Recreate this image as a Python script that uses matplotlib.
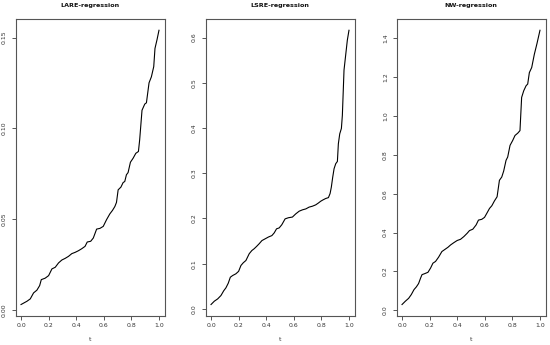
import matplotlib
matplotlib.use("Agg")
import matplotlib.pyplot as plt
import numpy as np

# ---- data ----
lare_t = [0.0, 0.043, 0.067, 0.091, 0.115, 0.135, 0.147, 0.175, 0.2, 0.224, 0.248, 0.272,
          0.296, 0.32, 0.344, 0.368, 0.392, 0.416, 0.44, 0.464, 0.48, 0.505, 0.524, 0.548,
          0.572, 0.596, 0.62, 0.644, 0.663, 0.68, 0.692, 0.704, 0.724, 0.74, 0.752, 0.764,
          0.776, 0.793, 0.8125, 0.832, 0.851, 0.86, 0.877, 0.897, 0.909, 0.928, 0.945,
          0.962, 0.971, 0.986, 1.0]
lare_y = [0.0031, 0.0049, 0.0062, 0.0095, 0.011, 0.0135, 0.0168, 0.0176, 0.019, 0.0227,
          0.0236, 0.026, 0.0276, 0.0285, 0.0296, 0.0311, 0.0318, 0.0327, 0.0338, 0.0351,
          0.0375, 0.0379, 0.0397, 0.0446, 0.045, 0.0461, 0.0498, 0.053, 0.0549, 0.057,
          0.0593, 0.0662, 0.0677, 0.0702, 0.0708, 0.0745, 0.0757, 0.0814, 0.0836, 0.0863,
          0.0873, 0.0937, 0.110, 0.1134, 0.1141, 0.1251, 0.1284, 0.134, 0.144, 0.1489, 0.154]

lsre_t = [0.0, 0.024, 0.048, 0.072, 0.092, 0.108, 0.125, 0.14, 0.157, 0.18, 0.2, 0.217,
          0.234, 0.253, 0.277, 0.296, 0.313, 0.33, 0.349, 0.369, 0.393, 0.417, 0.441, 0.458,
          0.475, 0.494, 0.513, 0.537, 0.561, 0.59, 0.614, 0.639, 0.663, 0.687, 0.711, 0.735,
          0.759, 0.778, 0.795, 0.812, 0.831, 0.851, 0.863, 0.872, 0.882, 0.892, 0.904, 0.916,
          0.923, 0.933, 0.945, 0.952, 0.964, 0.976, 0.988, 1.0]
lsre_y = [0.0096, 0.017, 0.022, 0.0295, 0.04, 0.0465, 0.0568, 0.07, 0.0738, 0.0775, 0.083,
          0.096, 0.102, 0.107, 0.122, 0.129, 0.133, 0.138, 0.144, 0.151, 0.155, 0.159, 0.162,
          0.168, 0.177, 0.179, 0.186, 0.199, 0.2015, 0.203, 0.210, 0.216, 0.219, 0.221, 0.225,
          0.227, 0.230, 0.234, 0.238, 0.241, 0.244, 0.246, 0.255, 0.269, 0.291, 0.310, 0.321,
          0.326, 0.365, 0.387, 0.399, 0.428, 0.528, 0.561, 0.594, 0.616]

nw_t = [0.0, 0.024, 0.048, 0.067, 0.087, 0.104, 0.12, 0.135, 0.145, 0.164, 0.188, 0.207,
        0.224, 0.243, 0.265, 0.289, 0.313, 0.333, 0.352, 0.376, 0.4, 0.424, 0.448, 0.472,
        0.489, 0.513, 0.537, 0.554, 0.578, 0.598, 0.617, 0.634, 0.651, 0.67, 0.689, 0.706,
        0.723, 0.737, 0.754, 0.766, 0.783, 0.802, 0.819, 0.839, 0.855, 0.867, 0.882, 0.899,
        0.911, 0.923, 0.94, 0.959, 0.978, 1.0]
nw_y = [0.029, 0.046, 0.061, 0.080, 0.106, 0.120, 0.137, 0.166, 0.183, 0.188, 0.195, 0.217,
        0.242, 0.251, 0.273, 0.302, 0.314, 0.324, 0.336, 0.348, 0.359, 0.365, 0.379, 0.396,
        0.41, 0.417, 0.439, 0.464, 0.468, 0.478, 0.502, 0.524, 0.538, 0.563, 0.584, 0.669,
        0.686, 0.717, 0.772, 0.789, 0.849, 0.874, 0.900, 0.912, 0.925, 1.096, 1.130, 1.156,
        1.165, 1.224, 1.250, 1.318, 1.373, 1.442]

titles = ["LARE-regression", "LSRE-regression", "NW-regression"]
x_ticks = [0.0, 0.2, 0.4, 0.6, 0.8, 1.0]
y_ticks_list = [[0.00, 0.05, 0.10, 0.15],
                [0.0, 0.1, 0.2, 0.3, 0.4, 0.5, 0.6],
                [0.0, 0.2, 0.4, 0.6, 0.8, 1.0, 1.2, 1.4]]
y_fmt = ["%.2f", "%.1f", "%.1f"]

series = [(lare_t, lare_y), (lsre_t, lsre_y), (nw_t, nw_y)]

W, H = 550, 345
fig = plt.figure(figsize=(W / 100, H / 100), dpi=100)

lefts = [15.5, 205.5, 396.5]
box_w = 149.0
top, bottom = 19.3, 315.5

for i in range(3):
    l = lefts[i]
    ax = fig.add_axes([l / W, 1 - bottom / H, box_w / W, (bottom - top) / H])
    t, y = series[i]
    ax.plot(t, y, color="black", lw=0.8)
    ax.margins(x=0.04, y=0.04)
    ax.set_xticks(x_ticks)
    ax.set_xticklabels(["%.1f" % v for v in x_ticks])
    yt = y_ticks_list[i]
    ax.set_yticks(yt)
    ax.set_yticklabels([y_fmt[i] % v for v in yt], rotation=90, va="center")
    for s in ax.spines.values():
        s.set_color("#555555")
        s.set_linewidth(0.8)
    ax.tick_params(direction="out", length=3, width=0.7, color="#555555",
                   labelsize=4.4, labelcolor="#333333")
    ax.tick_params(axis="x", pad=2.2)
    ax.tick_params(axis="y", pad=3.2)
    ax.set_title(titles[i], fontsize=4.6, fontweight="bold", pad=8.5, color="#111111")
    ax.set_xlabel("t", fontsize=4.4, labelpad=7, color="#333333")

fig.savefig("out.png", dpi=100)
